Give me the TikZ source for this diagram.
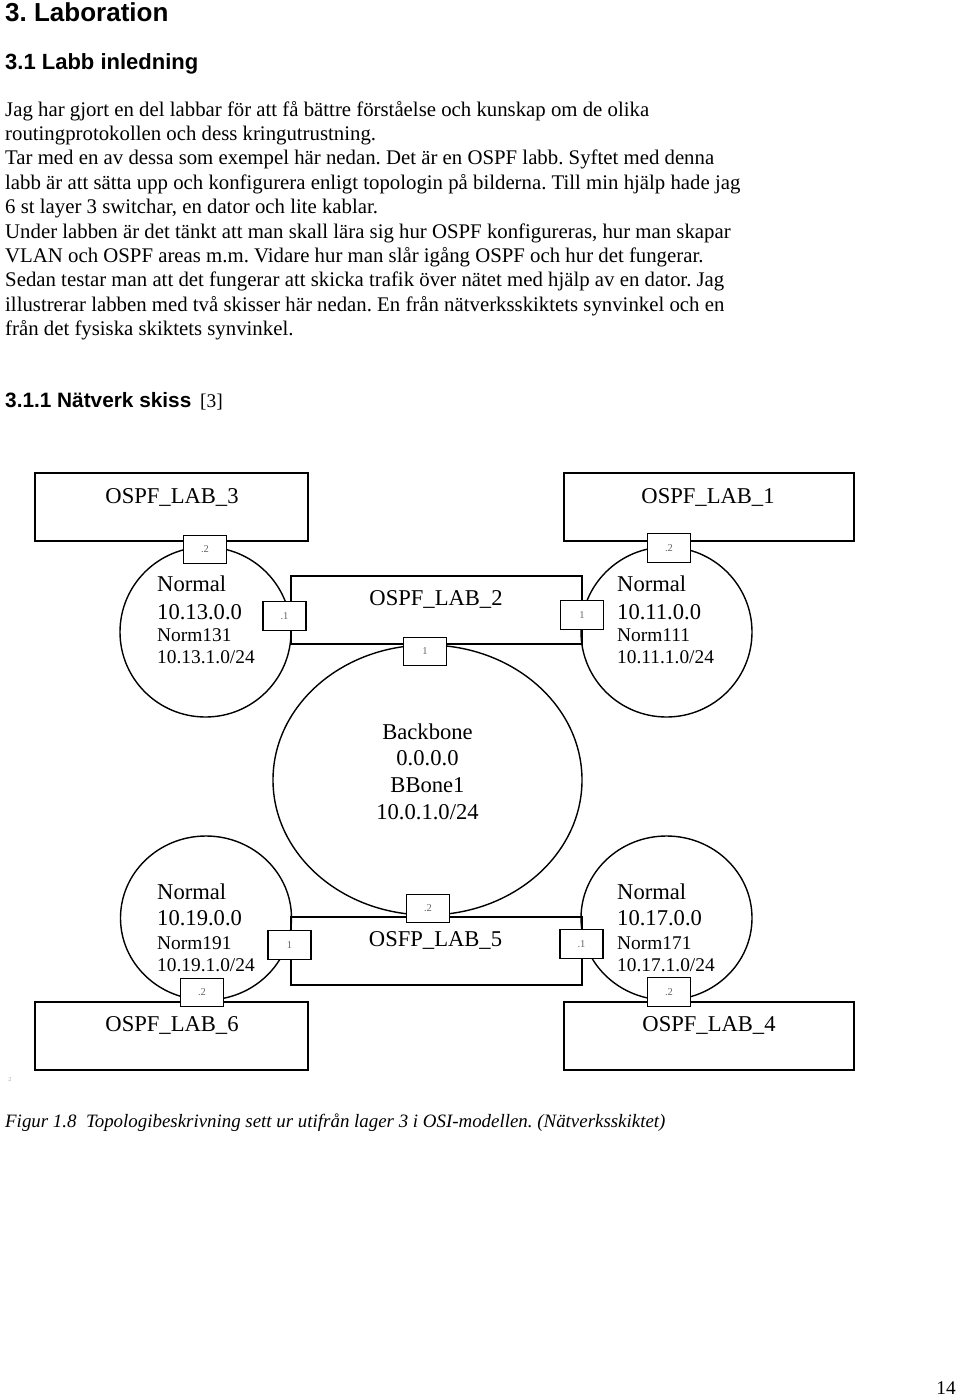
\documentclass[tikz,border=0pt]{standalone}
\usepackage{fontspec}
\setmainfont{Liberation Serif}
\newfontfamily\arialf{Liberation Sans}
\usetikzlibrary{shapes.geometric}
\frenchspacing
\begin{document}
\begin{tikzpicture}[x=1pt,y=-1pt,
  body/.style={anchor=base west, inner sep=0pt, font=\fontsize{20.8}{24}\selectfont},
  headA/.style={anchor=base west, inner sep=0pt, font=\arialf\bfseries\fontsize{26}{30}\selectfont},
  headB/.style={anchor=base west, inner sep=0pt, font=\arialf\bfseries\fontsize{22}{26}\selectfont},
  headC/.style={anchor=base west, inner sep=0pt, font=\arialf\bfseries\fontsize{20.8}{24}\selectfont},
  caption/.style={anchor=base west, inner sep=0pt, font=\itshape\fontsize{18.9}{23}\selectfont},
  labbox/.style={draw, line width=1.6pt, minimum width=273pt, minimum height=68pt, inner sep=0pt},
  midbox/.style={draw, line width=1.6pt, minimum width=291pt, minimum height=68pt, inner sep=0pt},
  area/.style={draw, ellipse, line width=1.4pt, inner sep=0pt},
  port/.style={draw, fill=white, line width=1.4pt, minimum width=43pt, minimum height=28.5pt, inner sep=0pt, text=black!60, font=\fontsize{10.5}{12}\selectfont},
  bigt/.style={inner sep=0pt, font=\fontsize{22.6}{26}\selectfont},
  bigl/.style={anchor=west, inner sep=0pt, font=\fontsize{22.6}{26}\selectfont},
  smalll/.style={anchor=west, inner sep=0pt, font=\fontsize{19.4}{23}\selectfont}
]
\path[use as bounding box, fill=white] (0,0) rectangle (960,1397);

% headings and text
\node[headA] (h1) at (5,21.5) {3. Laboration};
\node[headB] (h2) at (5,70) {3.1 Labb inledning};
\node[body] (p1) at (5,116) {Jag har gjort en del labbar för att få bättre förståelse och kunskap om de olika};
\node[body] (p2) at (5,140.4) {routingprotokollen och dess kringutrustning.};
\node[body] (p3) at (5,164.8) {Tar med en av dessa som exempel här nedan. Det är en OSPF labb. Syftet med denna};
\node[body] (p4) at (5,189.2) {labb är att sätta upp och konfigurera enligt topologin på bilderna. Till min hjälp hade jag};
\node[body] (p5) at (5,213.6) {6 st layer 3 switchar, en dator och lite kablar.};
\node[body] (p6) at (5,238) {Under labben är det tänkt att man skall lära sig hur OSPF konfigureras, hur man skapar};
\node[body] (p7) at (5,262.4) {VLAN och OSPF areas m.m. Vidare hur man slår igång OSPF och hur det fungerar.};
\node[body] (p8) at (5,286.8) {Sedan testar man att det fungerar att skicka trafik över nätet med hjälp av en dator. Jag};
\node[body] (p9) at (5,311.2) {illustrerar labben med två skisser här nedan. En från nätverksskiktets synvinkel och en};
\node[body] (p10) at (5,335.6) {från det fysiska skiktets synvinkel.};
\node[headC] (h3) at (5,407) {3.1.1 Nätverk skiss};
\node[body, font=\fontsize{19.4}{23}\selectfont] (h3r) at (200,407) {[3]};

% areas (ellipses)
\node[area, minimum width=171pt, minimum height=170pt] (e13) at (205.5,632) {};
\node[area, minimum width=171pt, minimum height=170pt] (e11) at (666.5,632) {};
\node[area, minimum width=309pt, minimum height=270pt] (bb) at (427.5,780) {};
\node[area, minimum width=171pt, minimum height=164pt] (e19) at (206,918) {};
\node[area, minimum width=171pt, minimum height=164pt] (e17) at (666.5,918) {};

% routers
\node[labbox] (lab3) at (171.5,507) {};
\node[labbox, minimum width=290pt] (lab1) at (709,507) {};
\node[midbox] (lab2) at (436.5,610) {};
\node[midbox] (lab5) at (436.5,951) {};
\node[labbox] (lab6) at (171.5,1036) {};
\node[labbox, minimum width=290pt] (lab4) at (709,1036) {};

\node[bigt] (lab3t) at (172,497) {OSPF\_LAB\_3};
\node[bigt] (lab1t) at (708,497) {OSPF\_LAB\_1};
\node[bigt] (lab2t) at (436,599) {OSPF\_LAB\_2};
\node[bigt] (lab5t) at (435.5,940) {OSFP\_LAB\_5};
\node[bigt] (lab6t) at (172,1025) {OSPF\_LAB\_6};
\node[bigt] (lab4t) at (709,1025) {OSPF\_LAB\_4};

% area texts
\node[bigl] (e13a) at (157,584) {Normal};
\node[bigl] (e13b) at (157,612) {10.13.0.0};
\node[smalll] (e13c) at (157,635) {Norm131};
\node[smalll] (e13d) at (157,657) {10.13.1.0/24};

\node[bigl] (e11a) at (617,584) {Normal};
\node[bigl] (e11b) at (617,612) {10.11.0.0};
\node[smalll] (e11c) at (617,635) {Norm111};
\node[smalll] (e11d) at (617,657) {10.11.1.0/24};

\node[bigt] (bba) at (427.5,732) {Backbone};
\node[bigt] (bbb) at (427.5,758) {0.0.0.0};
\node[bigt] (bbc) at (427.5,785) {BBone1};
\node[bigt] (bbd) at (427.5,812) {10.0.1.0/24};

\node[bigl] (e19a) at (157,892) {Normal};
\node[bigl] (e19b) at (157,918) {10.19.0.0};
\node[smalll] (e19c) at (157,943) {Norm191};
\node[smalll] (e19d) at (157,965) {10.19.1.0/24};

\node[bigl] (e17a) at (617,892) {Normal};
\node[bigl] (e17b) at (617,918) {10.17.0.0};
\node[smalll] (e17c) at (617,943) {Norm171};
\node[smalll] (e17d) at (617,965) {10.17.1.0/24};

% ports
\node[port] (p3a) at (205,549.5) {.2};
\node[port] (p1a) at (669,548) {.2};
\node[port] (p2l) at (284.5,616) {.1};
\node[port] (p2r) at (582,615) {1};
\node[port] (p2b) at (425,651.5) {1};
\node[port] (p5t) at (428,908.5) {.2};
\node[port] (p5l) at (289.5,945) {1};
\node[port] (p5r) at (581.5,944) {.1};
\node[port] (p6a) at (202,992.5) {.2};
\node[port] (p4a) at (669,992) {.2};

\node[inner sep=0pt, text=black!35, font=\fontsize{6}{7}\selectfont] (spk) at (10,1080) {2};

\node[caption] (cap) at (5,1127) {Figur 1.8\ \ Topologibeskrivning sett ur utifrån lager 3 i OSI-modellen. (Nätverksskiktet)};
\node[body, anchor=base east, font=\fontsize{19.4}{23}\selectfont] (pg) at (956,1394) {14};
\end{tikzpicture}
\end{document}
